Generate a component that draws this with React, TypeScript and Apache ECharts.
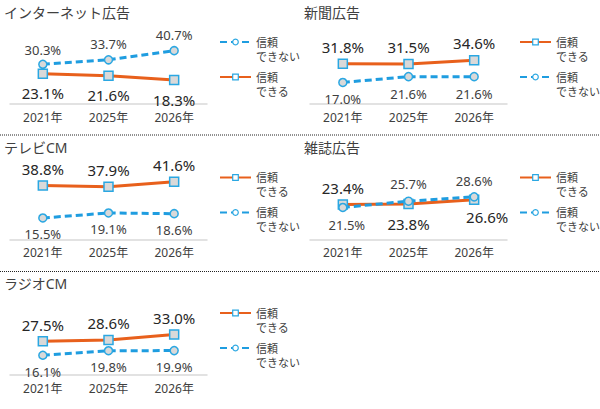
import { useEffect, useRef } from "react";
import * as echarts from "echarts";

// 年次カテゴリ
const years = ["2021年", "2025年", "2026年"];
const mediaTitles = ["インターネット広告", "新聞広告", "テレビCM", "雑誌広告", "ラジオCM"];

// 信頼できる (%)
const trustInternet = [23.1, 21.6, 18.3];
const trustNewspaper = [31.8, 31.5, 34.6];
const trustTv = [38.8, 37.9, 41.6];
const trustMagazine = [23.4, 23.8, 26.6];
const trustRadio = [27.5, 28.6, 33.0];

// 信頼できない (%)
const distrustInternet = [30.3, 33.7, 40.7];
const distrustNewspaper = [17.0, 21.6, 21.6];
const distrustTv = [15.5, 19.1, 18.6];
const distrustMagazine = [21.5, 25.7, 28.6];
const distrustRadio = [16.1, 19.8, 19.9];

const trustValues = [trustInternet, trustNewspaper, trustTv, trustMagazine, trustRadio];
const distrustValues = [distrustInternet, distrustNewspaper, distrustTv, distrustMagazine, distrustRadio];

const TRUST = "信頼\nできる";
const DISTRUST = "信頼\nできない";

// パネル配置
const panelLeft = [0, 300, 0, 300, 0];
const panelTop = [0, 0, 135.5, 135.5, 271];
const yMax = [49.6, 51.3, 46.8, 43.6, 53];

const ORANGE = "#e8601c";
const BLUE = "#1f9de0";
const MARKER_BORDER = "#2aa7e2";
const MARKER_FILL = "#d9d9d9";
const FONT = '"Noto Sans", "Noto Sans CJK JP", sans-serif';

type LabelCfg = { position: string; distance: number; offset?: number[] };
const up = (d = 4): LabelCfg => ({ position: "top", distance: d });
const down = (d = 6): LabelCfg => ({ position: "bottom", distance: d });

// ラベル位置（パネル毎）
const trustLabels: LabelCfg[][] = [
  [down(7), down(7), down(7)],
  [up(), up(), up()],
  [up(), up(), up()],
  [up(), down(7), { position: "bottom", distance: 4, offset: [13, 0] }],
  [up(), up(), up()],
];
const distrustLabels: LabelCfg[][] = [
  [up(3), up(5), up(4)],
  [down(5), down(6), down(6)],
  [down(5), down(5), down(5)],
  [{ position: "bottom", distance: 6, offset: [4, 0] }, up(6), up(5)],
  [down(5), down(5), down(5)],
];
// 凡例の順序（上から）
const legendOrder = [
  [DISTRUST, TRUST],
  [TRUST, DISTRUST],
  [TRUST, DISTRUST],
  [TRUST, DISTRUST],
  [TRUST, DISTRUST],
];

const pct = (p: any) => Number(p.value).toFixed(1) + "%";

export default function App() {
  const chartRef = useRef<HTMLDivElement>(null);

  useEffect(() => {
    if (!chartRef.current) return;
    const chart = echarts.init(chartRef.current, null, { renderer: "svg" });

    const series: any[] = [];
    mediaTitles.forEach((_, i) => {
      series.push({
        name: TRUST,
        type: "line",
        xAxisIndex: i,
        yAxisIndex: i,
        symbol: "rect",
        symbolSize: 9,
        lineStyle: { color: ORANGE, width: 3 },
        itemStyle: { color: MARKER_FILL, borderColor: MARKER_BORDER, borderWidth: 1.5 },
        data: trustValues[i].map((v, j) => ({
          value: v,
          label: { show: true, ...trustLabels[i][j] },
        })),
        label: { formatter: pct, fontSize: 15, color: "#262626", fontFamily: FONT },
      });
      series.push({
        name: DISTRUST,
        type: "line",
        xAxisIndex: i,
        yAxisIndex: i,
        symbol: "circle",
        symbolSize: 8,
        lineStyle: { color: BLUE, width: 3, type: [7, 4] },
        itemStyle: { color: MARKER_FILL, borderColor: MARKER_BORDER, borderWidth: 1.5 },
        data: distrustValues[i].map((v, j) => ({
          value: v,
          label: { show: true, ...distrustLabels[i][j] },
        })),
        label: { formatter: pct, fontSize: 13, color: "#404040", fontFamily: FONT },
      });
    });

    const legends: any[] = [];
    legendOrder.forEach((names, i) => {
      names.forEach((name, k) => {
        legends.push({
          data: [name],
          selectedMode: false,
          orient: "vertical",
          left: panelLeft[i] + 219,
          top: panelTop[i] + (k === 0 ? 42 : 77) - 21,
          padding: 0,
          itemWidth: 31,
          itemHeight: 7,
          itemGap: 0,
          // 先頭に空行を入れて「信頼」の行を線の高さに揃える
          formatter: (n: string) => "\n" + n,
          textStyle: { fontSize: 11, lineHeight: 14, color: "#404040", fontFamily: FONT },
          itemStyle: { color: "#ffffff", borderColor: MARKER_BORDER, borderWidth: 1.2 },
        });
      });
    });

    const option = {
      animation: false,
      textStyle: { fontFamily: FONT },
      title: mediaTitles.map((t, i) => ({
        text: t,
        left: panelLeft[i] + 4,
        top: panelTop[i] + 5,
        padding: 0,
        textStyle: { fontSize: 14, fontWeight: "normal", color: "#404040", fontFamily: FONT },
      })),
      legend: legends,
      grid: mediaTitles.map((_, i) => ({
        left: panelLeft[i] + 10,
        width: 197,
        top: panelTop[i] + 39,
        height: 65,
      })),
      xAxis: mediaTitles.map((_, i) => ({
        type: "category",
        gridIndex: i,
        data: years,
        axisLine: { lineStyle: { color: "#d9d9d9", width: 1.5 } },
        axisTick: { show: false },
        axisLabel: { fontSize: 12, color: "#404040", margin: 7, fontFamily: FONT },
      })),
      yAxis: mediaTitles.map((_, i) => ({
        type: "value",
        gridIndex: i,
        min: 0,
        max: yMax[i],
        show: false,
        splitLine: { show: false },
      })),
      graphic: [135, 271.5].map((y) => ({
        type: "line",
        shape: { x1: 0, y1: y, x2: 600, y2: y },
        style: { stroke: "#222", lineWidth: 1, lineDash: [1, 1] },
      })),
      series,
    };

    chart.setOption(option);
    return () => {
      chart.dispose();
    };
  }, []);

  return (
    <div
      ref={chartRef}
      style={{ position: "absolute", left: 0, top: 0, width: "600px", height: "409px", background: "#fff" }}
    ></div>
  );
}
